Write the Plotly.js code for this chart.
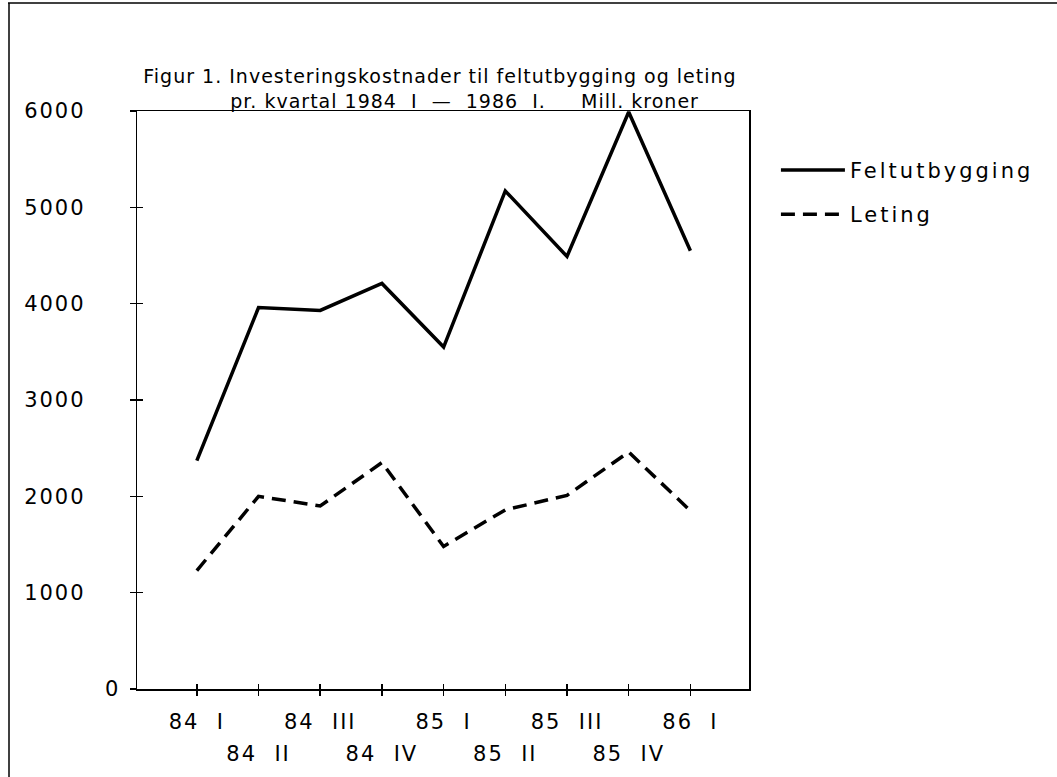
<!DOCTYPE html>
<html>
<head>
<meta charset="utf-8">
<script src="https://cdn.plot.ly/plotly-3.0.1.min.js"></script>
<style>
html,body{margin:0;padding:0;background:#fff;overflow:hidden;}
#chart{width:1057px;height:777px;}
.xtick text, .x2tick text, .ytick text {letter-spacing:2px;}
.legendtext {letter-spacing:3px;}
.gtitle {letter-spacing:1px;}
</style>
</head>
<body>
<div id="chart"></div>
<script>
const quarters = ['84 I','84 II','84 III','84 IV','85 I','85 II','85 III','85 IV','86 I'];
const feltutbygging = [2370, 3960, 3930, 4210, 3550, 5170, 4490, 5990, 4550];
const leting = [1230, 2000, 1900, 2350, 1480, 1860, 2010, 2460, 1850];
const yTickValues = [0, 1000, 2000, 3000, 4000, 5000, 6000];
const yTickLabels = ['0', '1000', '2000', '3000', '4000', '5000', '6000'];
const seriesNames = ['Feltutbygging', 'Leting'];
const titleLine1 = 'Figur 1. Investeringskostnader til feltutbygging og leting';
const titleLine2 = 'pr. kvartal 1984 I \u2014 1986 I.    Mill. kroner';

const NB = '\u00a0';
const fmt = s => s.replace(/ /g, NB + NB);
const FONT = 'DejaVu Sans, Verdana, sans-serif';
const idx = quarters.map((_, i) => i);
const row1 = quarters.map((q, i) => i % 2 === 0 ? fmt(q) : '');
const row2 = quarters.map((q, i) => i % 2 === 1 ? fmt(q) : '');
const yText = yTickLabels.map(l => l === '0' ? l : l + NB.repeat(4));
const title2 = titleLine2.replace(/    /g, NB.repeat(5))
  .replace(/1984 I \u2014 1986 I\./, s => s.replace(/ /g, NB + NB));

const traces = [
  {x: idx, y: feltutbygging, name: seriesNames[0], type: 'scatter', mode: 'lines',
   line: {color: '#000', width: 3.5}, legendgroup: 'a'},
  {x: idx, y: leting, name: seriesNames[1], type: 'scatter', mode: 'lines',
   line: {color: '#000', width: 3.5, dash: '14px,8px'}, legendgroup: 'b'}
];

const layout = {
  width: 1057, height: 777,
  margin: {l: 137, r: 308, t: 111, b: 88, pad: 0, autoexpand: false},
  paper_bgcolor: '#fff', plot_bgcolor: '#fff',
  font: {family: FONT, size: 21, color: '#000'},
  title: {text: titleLine1 + '<br>' + NB.repeat(7) + title2,
          x: 0.495, xanchor: 'center', xref: 'paper', y: 0.893, yanchor: 'middle',
          font: {family: FONT, size: 19, color: '#000'}},
  showlegend: true,
  legend: {x: 1.044, xanchor: 'left', y: 0.933, yanchor: 'top', itemwidth: 64,
           font: {family: FONT, size: 21, color: '#000'}, tracegroupgap: 14,
           bgcolor: 'rgba(0,0,0,0)', borderwidth: 0},
  xaxis: {range: [-0.97, 8.95], tickmode: 'array', tickvals: idx, ticktext: row1,
          showgrid: false, zeroline: false, showline: true, linecolor: '#000', linewidth: 1.5,
          mirror: true, ticks: 'outside', ticklen: 5, tickwidth: 1.5, tickcolor: '#000',
          ticklabelstandoff: 8, fixedrange: true, automargin: false},
  xaxis2: {range: [-0.97, 8.95], overlaying: 'x', anchor: 'y', side: 'bottom',
          tickmode: 'array', tickvals: idx, ticktext: row2,
          showgrid: false, zeroline: false, showline: false,
          ticks: 'inside', ticklen: 5, tickwidth: 1.5, tickcolor: '#000',
          ticklabelstandoff: 50, fixedrange: true, automargin: false},
  yaxis: {range: [0, 6000], tickmode: 'array', tickvals: yTickValues, ticktext: yText,
          showgrid: false, zeroline: false, showline: true, linecolor: '#000', linewidth: 1.5,
          mirror: true, ticks: 'outside', ticklen: 6, tickwidth: 1.5, tickcolor: '#000',
          ticklabelstandoff: 5, fixedrange: true, automargin: false},
  yaxis2: {range: [0, 6000], overlaying: 'y', anchor: 'x', side: 'left',
          tickmode: 'array', tickvals: yTickValues, ticktext: yTickLabels.map(() => ''),
          showgrid: false, zeroline: false, showline: false,
          ticks: 'inside', ticklen: 6, tickwidth: 1.5, tickcolor: '#000', fixedrange: true},
  shapes: [
    {type: 'line', xref: 'paper', yref: 'paper', x0: (8 - 137) / 612, x1: (1057 - 137) / 612,
     y0: (689 - 3) / 578, y1: (689 - 3) / 578, line: {color: '#000', width: 1.5}},
    {type: 'line', xref: 'paper', yref: 'paper', x0: (9 - 137) / 612, x1: (9 - 137) / 612,
     y0: (689 - 3) / 578, y1: (689 - 777) / 578, line: {color: '#000', width: 1.5}}
  ]
};

traces.push({x: [0], y: [null], xaxis: 'x2', yaxis: 'y2', showlegend: false, hoverinfo: 'skip', type: 'scatter', mode: 'lines'});

Plotly.newPlot('chart', traces, layout, {displayModeBar: false, staticPlot: true});
</script>
</body>
</html>
